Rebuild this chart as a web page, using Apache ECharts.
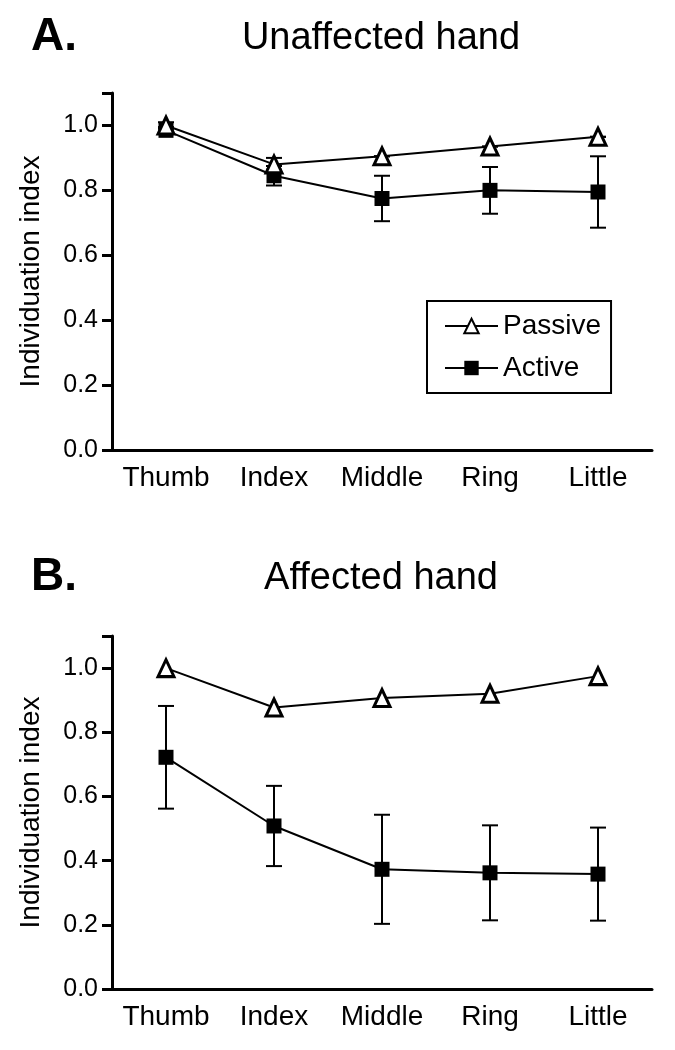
<!DOCTYPE html>
<html>
<head>
<meta charset="utf-8">
<script src="https://cdn.jsdelivr.net/npm/echarts@6/dist/echarts.min.js"></script>
<style>html,body{margin:0;padding:0;background:#fff}#c{width:675px;height:1050px}</style>
</head>
<body>
<div id="c"></div>
<script>
var categories = ['Thumb', 'Index', 'Middle', 'Ring', 'Little'];
var yTicks = ['0.0', '0.2', '0.4', '0.6', '0.8', '1.0'];
var passiveA = [1.00, 0.88, 0.905, 0.935, 0.965];
var passiveAErr = [0.01, 0.02, 0, 0, 0];
var activeA = [0.985, 0.845, 0.775, 0.80, 0.795];
var activeAErr = [0.01, 0.03, 0.07, 0.072, 0.11];
var passiveB = [1.00, 0.877, 0.907, 0.92, 0.975];
var activeB = [0.722, 0.508, 0.373, 0.362, 0.358];
var activeBErr = [0.16, 0.125, 0.17, 0.148, 0.145];

var FONT = 'Liberation Sans, Arial, sans-serif';

function errData(vals, errs) {
  return vals.map(function (v, i) { return [i, v - errs[i], v + errs[i]]; });
}
function errSeries(vals, errs, gi) {
  return {
    type: 'custom', xAxisIndex: gi, yAxisIndex: gi, z: 1, silent: true,
    data: errData(vals, errs),
    renderItem: function (params, api) {
      var lo = api.coord([api.value(0), api.value(1)]);
      var hi = api.coord([api.value(0), api.value(2)]);
      var w = 8;
      var st = { stroke: '#000', lineWidth: 2 };
      return { type: 'group', children: [
        { type: 'line', shape: { x1: hi[0], y1: hi[1], x2: lo[0], y2: lo[1] }, style: st },
        { type: 'line', shape: { x1: hi[0] - w, y1: hi[1], x2: hi[0] + w, y2: hi[1] }, style: st },
        { type: 'line', shape: { x1: lo[0] - w, y1: lo[1], x2: lo[0] + w, y2: lo[1] }, style: st }
      ]};
    }
  };
}
function passiveSeries(vals, gi) {
  return {
    name: 'Passive', type: 'line', xAxisIndex: gi, yAxisIndex: gi, z: 3,
    data: vals, symbol: 'triangle', symbolSize: [16, 17],
    lineStyle: { color: '#000', width: 2 },
    itemStyle: { color: '#fff', borderColor: '#000', borderWidth: 3 }
  };
}
function activeSeries(vals, gi) {
  return {
    name: 'Active', type: 'line', xAxisIndex: gi, yAxisIndex: gi, z: 2,
    data: vals, symbol: 'rect', symbolSize: 15,
    lineStyle: { color: '#000', width: 2 },
    itemStyle: { color: '#000', borderColor: '#000', borderWidth: 0 }
  };
}
function xAxis(gi) {
  return {
    type: 'category', gridIndex: gi, data: categories, boundaryGap: true,
    axisLine: { lineStyle: { color: '#000', width: 3 } },
    axisTick: { alignWithLabel: true, length: 10, lineStyle: { color: '#000', width: 3 } },
    axisLabel: { color: '#000', fontSize: 28, fontFamily: FONT, margin: 14, interval: 0 },
    splitLine: { show: false }
  };
}
function yAxis(gi) {
  return {
    type: 'value', gridIndex: gi, min: 0, max: 1.1, interval: 0.2,
    name: 'Individuation index', nameLocation: 'middle', nameRotate: 90, nameGap: 67,
    nameTextStyle: { color: '#000', fontSize: 28, fontFamily: FONT },
    axisLine: { show: true, lineStyle: { color: '#000', width: 3 } },
    axisTick: { show: true, length: 10, lineStyle: { color: '#000', width: 3 } },
    axisLabel: {
      color: '#000', fontSize: 25, fontFamily: FONT, margin: 14,
      formatter: function (v) { var i = Math.round(v / 0.2); return Math.abs(v - i * 0.2) < 1e-6 ? yTicks[i] : ''; }
    },
    splitLine: { show: false }
  };
}

var chart = echarts.init(document.getElementById('c'), null, { renderer: 'canvas' });
chart.setOption({
  backgroundColor: '#fff',
  animation: false,
  title: [
    { text: 'A.', left: 26, top: 9, textStyle: { fontSize: 46, fontWeight: 'bold', fontFamily: FONT, color: '#000' } },
    { text: 'Unaffected hand', left: 376, top: 15, textAlign: 'center', textStyle: { fontSize: 38, fontWeight: 'normal', fontFamily: FONT, color: '#000' } },
    { text: 'B.', left: 26, top: 549, textStyle: { fontSize: 46, fontWeight: 'bold', fontFamily: FONT, color: '#000' } },
    { text: 'Affected hand', left: 376, top: 555, textAlign: 'center', textStyle: { fontSize: 38, fontWeight: 'normal', fontFamily: FONT, color: '#000' } }
  ],
  legend: {
    data: ['Passive', 'Active'], orient: 'vertical', left: 427, top: 301,
    padding: [11, 10, 11, 17], itemGap: 14,
    borderColor: '#000', borderWidth: 2, itemWidth: 53, itemHeight: 18,
    textStyle: { fontSize: 28, fontFamily: FONT, color: '#000' }
  },
  grid: [
    { left: 112, right: 23, top: 93, bottom: 600 },
    { left: 112, right: 23, top: 636, bottom: 61 }
  ],
  xAxis: [xAxis(0), xAxis(1)],
  yAxis: [yAxis(0), yAxis(1)],
  series: [
    errSeries(passiveA, passiveAErr, 0),
    errSeries(activeA, activeAErr, 0),
    passiveSeries(passiveA, 0),
    activeSeries(activeA, 0),
    errSeries(activeB, activeBErr, 1),
    passiveSeries(passiveB, 1),
    activeSeries(activeB, 1)
  ]
});
</script>
</body>
</html>
